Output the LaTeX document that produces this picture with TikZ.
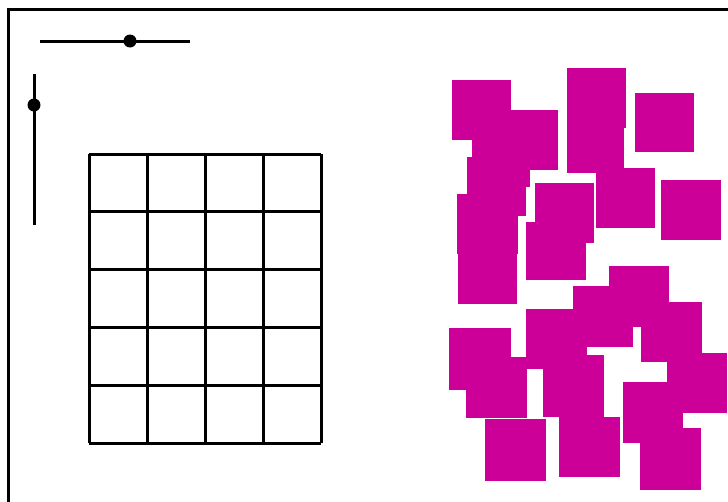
\documentclass[tikz,border=0pt]{standalone}
\definecolor{mag}{RGB}{204,0,153}
\tikzset{
  sq/.style={fill=mag},
  ln/.style={line width=3pt, black},
  knob/.style={fill=black}
}
\begin{document}
\begin{tikzpicture}[x=1pt,y=-1pt]
\useasboundingbox (0,0) rectangle (728,501);
\begin{scope}
\clip (0,0) rectangle (728,501);
\draw[ln] (8,9) rectangle (740,520);
\end{scope}
% sliders
\coordinate (h1) at (40,41); \coordinate (h2) at (190,41);
\draw[ln] (h1) -- (h2);
\fill[knob] (130,41) circle (6.5);
\coordinate (v1) at (34,74); \coordinate (v2) at (34,225);
\draw[ln] (v1) -- (v2);
\fill[knob] (34,105) circle (6.5);
% grid
\foreach \i in {0,...,4} {
  \draw[ln] ({89+58*\i},154) -- ({89+58*\i},443);
}
\foreach \j in {0,...,5} {
  \draw[ln] (89,{154+57.8*\j}) -- (321,{154+57.8*\j});
}
% magenta squares
\foreach \a/\b/\c/\d in {
 452/80/511/140, 499/110/558/170, 567/68/626/128, 567/115/624/173,
 635/93/694/152, 596/168/655/228, 661/180/721/240, 535/183/594/243,
 526/222/586/280, 472/129/530/187, 467/157/526/216, 457/194/518/254,
 458/245/517/304, 609/266/669/327, 641/302/702/362, 573/286/633/347,
 526/309/587/369, 543/355/604/417, 449/328/511/390, 466/357/527/418,
 485/419/546/481, 559/417/620/477, 667/353/727/413, 623/382/683/443,
 640/428/701/490} {
  \fill[sq] (\a,\b) rectangle (\c,\d);
}
\end{tikzpicture}
\end{document}
